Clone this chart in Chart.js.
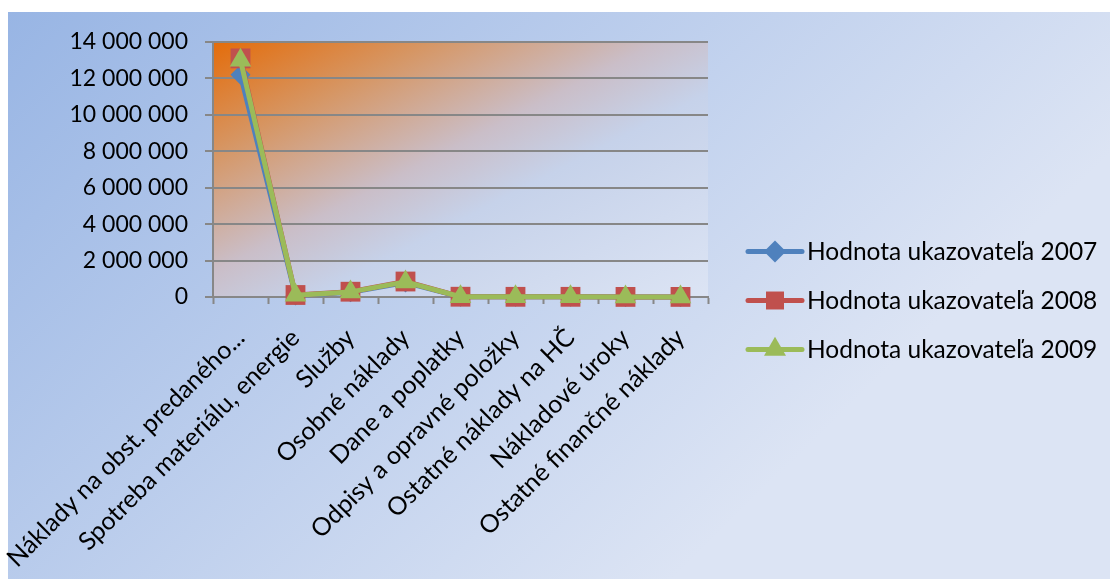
<!DOCTYPE html>
<html>
<head>
<meta charset="utf-8">
<script src="https://cdn.jsdelivr.net/npm/chart.js@4.4.1/dist/chart.umd.min.js"></script>
<style>
  html, body { margin: 0; padding: 0; background: #ffffff; }
  #wrap { width: 1110px; height: 581px; }
</style>
</head>
<body>
<div id="wrap"><canvas id="c" width="1110" height="581"></canvas></div>
<script>
// Cost categories (x axis)
const categories = [
  'Náklady na obst. predaného...',
  'Spotreba materiálu, energie',
  'Služby',
  'Osobné náklady',
  'Dane a poplatky',
  'Odpisy a opravné položky',
  'Ostatné náklady na HČ',
  'Nákladové úroky',
  'Ostatné finančné náklady'
];

// Indicator values per year
const values2007 = [12200000, 80000, 260000, 790000, 15000, 10000, 10000, 5000, 5000];
const values2008 = [13100000, 110000, 290000, 850000, 15000, 10000, 10000, 5000, 5000];
const values2009 = [13000000, 100000, 280000, 830000, 15000, 10000, 10000, 5000, 5000];

// Series names
const seriesNames = ['Hodnota ukazovateľa 2007', 'Hodnota ukazovateľa 2008', 'Hodnota ukazovateľa 2009'];

// Value axis ticks
const yTicks = [0, 2000000, 4000000, 6000000, 8000000, 10000000, 12000000, 14000000];

const FONT = 'Lato, "Open Sans", sans-serif';
const GRID = '#878787';

const fmt = v => String(v).replace(/\B(?=(\d{3})+(?!\d))/g, ' ');

// Backgrounds: outer panel and plot area gradients
const backgroundPlugin = {
  id: 'panelBackground',
  beforeDraw(chart) {
    const ctx = chart.ctx;
    const W = chart.width, H = chart.height;
    ctx.save();
    ctx.fillStyle = '#ffffff';
    ctx.fillRect(0, 0, W, H);
    const ox = 8, oy = 12, ow = W - 8, oh = H - 14;
    const g = ctx.createLinearGradient(ox, oy, ox + ow * 0.55, oy + oh * 1.1);
    g.addColorStop(0, '#98b5e4');
    g.addColorStop(1, '#dce4f4');
    ctx.fillStyle = g;
    ctx.fillRect(ox, oy, ow, oh);

    const a = chart.chartArea;
    const w = a.right - a.left, h = a.bottom - a.top;
    const s = 2 * w * h / (w * w + h * h);
    const pg = ctx.createLinearGradient(a.left, a.top, a.left + h * s, a.top + w * s);
    pg.addColorStop(0, 'rgb(228,108,10)');
    pg.addColorStop(0.22, 'rgb(214,150,100)');
    pg.addColorStop(0.45, 'rgb(202,190,200)');
    pg.addColorStop(0.6, 'rgb(198,210,234)');
    pg.addColorStop(1, 'rgb(220,228,244)');
    ctx.fillStyle = pg;
    ctx.fillRect(a.left, a.top, w, h);
    ctx.restore();
  }
};

// Legend on the right: line sample with marker, then the series name
const legendRadius = [11, 12.7, 12.7];
const sideLegendPlugin = {
  id: 'sideLegend',
  afterDraw(chart) {
    const ctx = chart.ctx;
    const a = chart.chartArea;
    const x0 = a.right + 40, x1 = a.right + 94, tx = a.right + 99;
    const step = 49;
    const yc = chart.height / 2 + 10;
    chart.data.datasets.forEach((ds, i) => {
      const y = yc + (i - 1) * step;
      ctx.save();
      ctx.strokeStyle = ds.borderColor;
      ctx.lineWidth = ds.borderWidth;
      ctx.lineCap = 'round';
      ctx.beginPath();
      ctx.moveTo(x0, y);
      ctx.lineTo(x1, y);
      ctx.stroke();
      ctx.fillStyle = ds.pointBackgroundColor;
      Chart.helpers.drawPoint(ctx, { pointStyle: ds.pointStyle, radius: legendRadius[i], borderWidth: 0, rotation: 0 }, (x0 + x1) / 2, y);
      ctx.fillStyle = '#000000';
      ctx.font = '24.5px ' + FONT;
      ctx.textAlign = 'left';
      ctx.textBaseline = 'middle';
      ctx.fillText(ds.label, tx, y + 1);
      ctx.restore();
    });
  }
};

const mkSeries = (label, data, color, style, radius, order) => ({
  label, data,
  borderColor: color,
  backgroundColor: color,
  pointBackgroundColor: color,
  pointBorderColor: color,
  pointBorderWidth: 0,
  borderWidth: 5,
  pointStyle: style,
  pointRadius: radius,
  pointHoverRadius: radius,
  borderJoinStyle: 'round',
  borderCapStyle: 'round',
  tension: 0,
  clip: false,
  order
});

new Chart(document.getElementById('c'), {
  type: 'line',
  data: {
    labels: categories,
    datasets: [
      mkSeries(seriesNames[0], values2007, '#4f81bd', 'rectRot', 10, 3),
      mkSeries(seriesNames[1], values2008, '#c0504d', 'rect', 14, 2),
      mkSeries(seriesNames[2], values2009, '#9bbb59', 'triangle', 12.5, 1)
    ]
  },
  options: {
    responsive: false,
    animation: false,
    devicePixelRatio: 1,
    layout: { padding: { left: 0, top: 42, right: 402, bottom: 0 } },
    plugins: {
      legend: { display: false },
      tooltip: { enabled: false }
    },
    scales: {
      x: {
        offset: true,
        grid: {
          display: true,
          offset: true,
          drawOnChartArea: false,
          drawTicks: true,
          tickLength: 7,
          tickWidth: 2,
          color: GRID
        },
        border: { display: true, color: GRID, width: 2 },
        ticks: {
          autoSkip: false,
          minRotation: 45,
          maxRotation: 45,
          padding: 19,
          color: '#000000',
          font: { family: FONT, size: 25 }
        },
        afterFit(scale) {
          scale.height = 581 - 297;
          scale.paddingLeft = 0;
          scale.paddingRight = 0;
        }
      },
      y: {
        min: 0,
        max: 14000000,
        afterBuildTicks(scale) {
          scale.ticks = yTicks.map(v => ({ value: v }));
        },
        grid: {
          color: GRID,
          lineWidth: 2,
          drawTicks: true,
          tickLength: 8,
          tickWidth: 2
        },
        border: { display: true, color: GRID, width: 2 },
        ticks: {
          padding: 17,
          color: '#000000',
          font: { family: FONT, size: 23 },
          callback: v => fmt(v)
        },
        afterFit(scale) {
          scale.width = 213;
          scale.paddingTop = 0;
          scale.paddingBottom = 0;
        }
      }
    }
  },
  plugins: [backgroundPlugin, sideLegendPlugin]
});
</script>
</body>
</html>
